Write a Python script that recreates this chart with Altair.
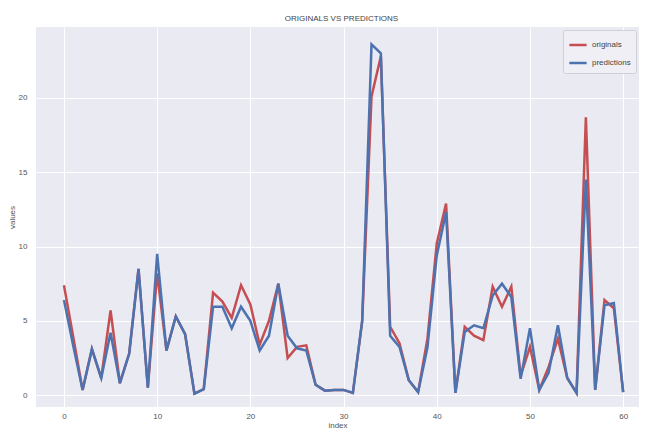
import altair as alt
import pandas as pd

index = list(range(61))
originals = [7.4, 3.9, 0.35, 3.1, 1.15, 5.7, 0.8, 2.8, 8.5, 0.5,
             8.2, 3.0, 5.3, 4.1, 0.1, 0.4, 6.9, 6.3, 5.2, 7.4,
             6.1, 3.4, 5.0, 7.5, 2.5, 3.25, 3.35, 0.7, 0.3, 0.35,
             0.35, 0.15, 5.0, 20.1, 22.8, 4.6, 3.5, 1.0, 0.2, 3.8,
             10.2, 12.9, 0.15, 4.6, 4.0, 3.7, 7.3, 5.95, 7.3, 1.3,
             3.25, 0.35, 1.9, 3.8, 1.15, 0.15, 18.7, 0.35, 6.4, 5.85,
             0.2]
predictions = [6.4, 3.3, 0.35, 3.1, 1.15, 4.2, 0.8, 2.8, 8.5, 0.5,
               9.5, 3.0, 5.3, 4.1, 0.1, 0.4, 5.95, 5.95, 4.5, 5.95,
               5.0, 3.0, 4.0, 7.5, 4.0, 3.15, 3.0, 0.7, 0.3, 0.35,
               0.35, 0.15, 5.0, 23.6, 23.0, 4.0, 3.25, 1.0, 0.2, 3.2,
               9.4, 12.3, 0.15, 4.25, 4.7, 4.5, 6.7, 7.5, 6.6, 1.1,
               4.5, 0.35, 1.5, 4.7, 1.15, 0.15, 14.5, 0.35, 6.05, 6.2,
               0.2]
series_names = ["originals", "predictions"]
series_colors = ["#C44E52", "#4C72B0"]
x_ticks = [0, 10, 20, 30, 40, 50, 60]
y_ticks = [0, 5, 10, 15, 20]

rows = []
for name, vals in zip(series_names, [originals, predictions]):
    for i, v in zip(index, vals):
        rows.append({"index": i, "value": v, "series": name})
df = pd.DataFrame(rows)

FONT = "Liberation Sans"

chart = alt.Chart(df).mark_line(strokeWidth=2.5).encode(
    x=alt.X("index:Q",
            scale=alt.Scale(domain=[-3, 61.7], nice=False, zero=False),
            axis=alt.Axis(values=x_ticks, title="index", grid=True,
                          domain=False, ticks=False, labelPadding=5,
                          labelFontSize=8, titleFontSize=8,
                          titleFontWeight="normal", titlePadding=1,
                          labelColor="#555555", titleColor="#555555",
                          gridColor="white", gridWidth=1)),
    y=alt.Y("value:Q",
            scale=alt.Scale(domain=[-0.8, 24.775], nice=False, zero=False),
            axis=alt.Axis(values=y_ticks, title="values", grid=True,
                          domain=False, ticks=False, labelPadding=9,
                          labelFontSize=8, titleFontSize=8,
                          titleFontWeight="normal", titlePadding=2,
                          labelColor="#555555", titleColor="#555555",
                          gridColor="white", gridWidth=1)),
    color=alt.Color("series:N",
                    scale=alt.Scale(domain=series_names, range=series_colors),
                    legend=alt.Legend(title=None, orient="top-right",
                                      offset=3, symbolType="stroke",
                                      symbolSize=300, symbolStrokeWidth=2.5,
                                      labelFontSize=8, labelColor="#444444",
                                      fillColor="#EFEFF5",
                                      strokeColor="#D0D0D8",
                                      padding=5, rowPadding=3,
                                      cornerRadius=2)),
    detail="series:N",
).properties(
    width=603,
    height=380,
    padding={"left": 28, "top": 19, "right": 0, "bottom": 22},
    autosize=alt.AutoSizeParams(type="none"),
    title=alt.TitleParams("ORIGINALS VS PREDICTIONS", fontSize=8,
                          fontWeight="normal", color="#444444",
                          offset=4, anchor="middle", dx=4),
    background="white",
).configure(
    font=FONT
).configure_view(
    fill="#EAEAF2", stroke=None
)

chart.save("out.html", embed_options={"renderer": "svg", "actions": False})
